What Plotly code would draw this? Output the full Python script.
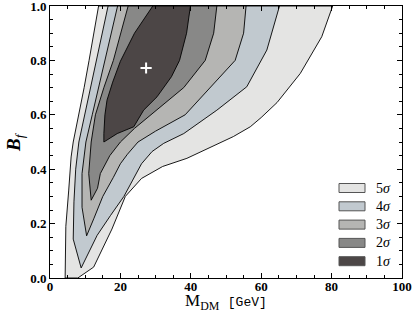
import plotly.graph_objects as go

# contour region boundaries (closed polygons): left side bottom->top, then right side top->bottom
x5 = [4.3, 4.5, 5.3, 6.0, 6.6, 8.2, 9.7, 11.1, 12.5, 13.8, 80.3, 77.2, 71.1, 64.5, 60.0, 56.9, 52.1, 47.0, 42.7, 38.9, 32.0, 26.0, 21.4, 17.6, 12.4, 7.9]
y5 = [0.0, 0.19, 0.32, 0.445, 0.5, 0.6, 0.7, 0.8, 0.9, 1.0, 1.0, 0.887, 0.752, 0.645, 0.59, 0.556, 0.52, 0.49, 0.464, 0.44, 0.41, 0.366, 0.30, 0.18, 0.04, 0.0]

x4 = [8.85, 6.6, 6.8, 7.3, 8.2, 9.9, 11.5, 13.2, 14.8, 16.5, 65.2, 61.6, 55.9, 47.4, 38.0, 32.3, 29.0, 26.0, 23.5, 21.0, 17.2, 13.4]
y4 = [0.037, 0.143, 0.28, 0.4, 0.5, 0.6, 0.7, 0.8, 0.9, 1.0, 1.0, 0.838, 0.703, 0.617, 0.531, 0.495, 0.465, 0.42, 0.36, 0.30, 0.23, 0.157]

x3 = [10.4, 9.1, 9.1, 10.2, 12.0, 13.8, 15.6, 17.4, 19.2, 55.7, 55.0, 52.6, 45.5, 38.4, 30.0, 25.0, 22.0, 20.0, 18.0, 15.0, 12.5]
y3 = [0.155, 0.26, 0.384, 0.5, 0.6, 0.7, 0.8, 0.9, 1.0, 1.0, 0.9, 0.8, 0.7, 0.6, 0.54, 0.5, 0.455, 0.42, 0.37, 0.3, 0.22]

x2 = [11.7, 11.0, 11.7, 12.9, 15.3, 18.0, 22.2, 47.4, 46.5, 44.1, 38.0, 28.5, 24.0, 20.0, 17.0, 14.3, 13.5]
y2 = [0.286, 0.384, 0.5, 0.6, 0.7, 0.8, 1.0, 1.0, 0.9, 0.8, 0.7, 0.6, 0.55, 0.5, 0.45, 0.384, 0.33]

x1 = [15.3, 15.3, 15.6, 16.2, 17.8, 20.0, 24.0, 29.2, 39.9, 38.8, 36.8, 34.5, 30.4, 26.6, 23.8, 19.1]
y1 = [0.5, 0.531, 0.6, 0.654, 0.72, 0.797, 0.9, 1.0, 1.0, 0.9, 0.8, 0.74, 0.666, 0.617, 0.556, 0.531]

best_fit_x = [27.3]
best_fit_y = [0.772]

labels = ["5", "4", "3", "2", "1"]
colors = ["#e4e4e3", "#c1c9cf", "#b5b5b3", "#888887", "#4c4646"]
regions = [(x5, y5), (x4, y4), (x3, y3), (x2, y2), (x1, y1)]

x_ticks = [0, 20, 40, 60, 80, 100]
y_ticks = [0.0, 0.2, 0.4, 0.6, 0.8, 1.0]

fig = go.Figure()
for (xs, ys), lab, col in zip(regions, labels, colors):
    fig.add_trace(go.Scatter(
        x=xs + [xs[0]], y=ys + [ys[0]], mode="lines", fill="toself",
        fillcolor=col, line=dict(color="black", width=0.9),
        name=lab + "σ", hoverinfo="skip", showlegend=False))

fig.add_trace(go.Scatter(x=best_fit_x, y=best_fit_y, mode="markers",
                         marker=dict(symbol="cross-thin", size=8,
                                     line=dict(color="white", width=2)),
                         showlegend=False, hoverinfo="skip"))

serif = "Liberation Serif"
tickfont = dict(family=serif, size=13, color="black", weight="bold")
axis_common = dict(showline=True, linecolor="black", linewidth=1, mirror="allticks",
                   ticks="inside", ticklen=5, tickcolor="black", showgrid=False,
                   zeroline=False, tickfont=tickfont, automargin=False,
                   ticklabeloverflow="allow")
fig.update_xaxes(range=[0, 100], tickvals=x_ticks, ticktext=[str(v) for v in x_ticks],
                 minor=dict(ticks="inside", dtick=5, ticklen=3, tickcolor="black"),
                 ticklabelstandoff=-4, **axis_common)
fig.update_yaxes(range=[0, 1], tickvals=y_ticks, ticktext=["%.1f" % v for v in y_ticks],
                 minor=dict(ticks="inside", dtick=0.05, ticklen=3, tickcolor="black"),
                 ticklabelstandoff=0, **axis_common)

L, R, T, B = 50, 13, 6, 34
W, H = 415, 312
pw, ph = W - L - R, H - T - B

annotations = [
    dict(text="M<sub>DM</sub>  <span style='font-family:Liberation Mono;font-size:13px'>[GeV]</span>",
         xref="paper", yref="paper", x=0.5, y=-(302 - (H - B)) / ph, xanchor="center", yanchor="middle",
         showarrow=False, font=dict(family=serif, size=17, color="black")),
    dict(text="<b><i>B</i></b><sub><i>f</i></sub>", textangle=-90,
         xref="paper", yref="paper", x=(15 - L) / pw, y=0.5, xanchor="center", yanchor="middle",
         showarrow=False, font=dict(family=serif, size=19, color="black")),
]
shapes = []
centers = [188, 206.3, 224.6, 242.9, 261.2]
for lab, col, cy in zip(labels, colors, centers):
    yp = ((H - B) - cy) / ph
    shapes.append(dict(type="rect", xref="paper", yref="paper",
                       x0=(339 - L) / pw, x1=(365 - L) / pw,
                       y0=yp - 4.5 / ph, y1=yp + 4.5 / ph,
                       fillcolor=col, line=dict(color="#555555", width=1)))
    annotations.append(dict(text=lab + "<i>σ</i>", xref="paper", yref="paper",
                            x=(374 - L) / pw, y=yp, xanchor="left", yanchor="middle",
                            showarrow=False, font=dict(family=serif, size=14, color="black")))

fig.update_layout(
    width=W, height=H, margin=dict(l=L, r=R, t=T, b=B),
    plot_bgcolor="white", paper_bgcolor="white",
    showlegend=False, annotations=annotations, shapes=shapes,
)
fig.write_html("out.html", config={"displayModeBar": False},
               post_script="document.body.style.margin='0px';")
